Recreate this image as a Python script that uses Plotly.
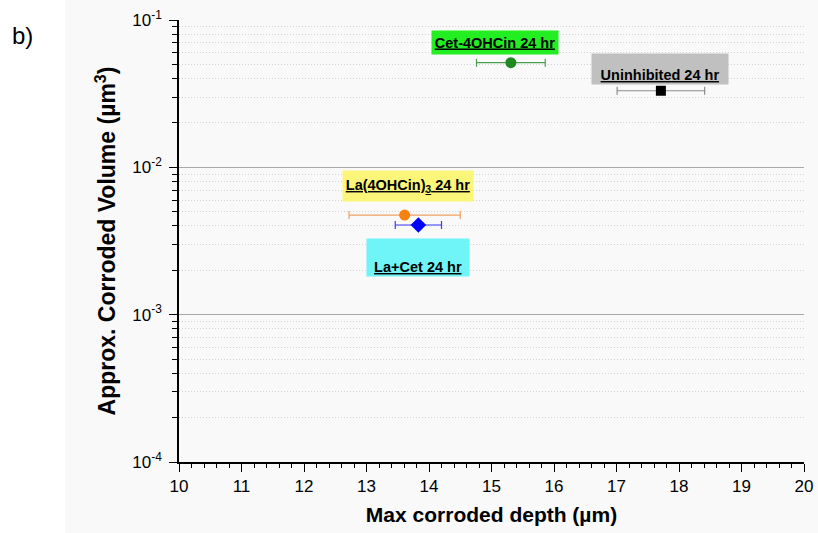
import plotly.graph_objects as go

# Data
names = ["Cet-4OHCin 24 hr", "Uninhibited 24 hr", "La(4OHCin)<sub>3</sub> 24 hr", "La+Cet 24 hr"]
depth = [15.31, 17.71, 13.61, 13.83]
depth_err = [0.55, 0.70, 0.89, 0.37]
volume = [0.0513, 0.0331, 0.00474, 0.00406]
marker_colors = ["#1f8a1f", "#000000", "#f7820f", "#0000ff"]
err_colors = ["#4c9f4c", "#8c8c8c", "#f2a060", "#3a3aff"]
symbols = ["circle", "square", "circle", "diamond"]
sizes = [11, 10, 11, 12]
box_colors = ["#22ee22", "#c0c0c0", "#fbf57a", "#6ff4f8"]
# label anchor (x in data units, y in log10 units) and box size (px)
label_x = [15.06, 17.70, 13.66, 13.82]
label_y = [-1.153, -1.333, -2.127, -2.612]
label_w = [124, 134, 128, 100]
label_h = [21, 28, 28, 35]

y_major = [1e-4, 1e-3, 1e-2, 1e-1]
y_major_text = ["10<sup>-4</sup>", "10<sup>-3</sup>", "10<sup>-2</sup>", "10<sup>-1</sup>"]
y_minor = [m * 10.0 ** e for e in (-4, -3, -2) for m in range(2, 10)]

FONT = "Liberation Sans, Arial"

fig = go.Figure()
for i in range(len(names)):
    fig.add_trace(go.Scatter(
        x=[depth[i]], y=[volume[i]], mode="markers",
        marker=dict(color=marker_colors[i], symbol=symbols[i], size=sizes[i], line=dict(width=0)),
        error_x=dict(type="data", array=[depth_err[i]], color=err_colors[i], thickness=1.2, width=4),
        showlegend=False, name=names[i]))
    fig.add_annotation(
        x=label_x[i], y=label_y[i], xref="x", yref="y",
        text="<u><b>" + names[i] + "</b></u>", showarrow=False,
        bgcolor=box_colors[i], width=label_w[i], height=label_h[i],
        valign="bottom" if i in (1, 3) else "middle",
        font=dict(family=FONT, size=14.5, color="#000000"))

tick_font = dict(family=FONT, size=17, color="#000000")

fig.update_layout(
    width=818, height=533,
    margin=dict(l=179, r=14, t=20, b=71, autoexpand=False),
    paper_bgcolor="white", plot_bgcolor="rgba(0,0,0,0)",
    font=dict(family=FONT, color="#000000"),
    xaxis=dict(
        range=[10, 20], dtick=1, tick0=10, ticks="outside", ticklen=8, tickwidth=1.3,
        tickcolor="black", showline=True, linecolor="black", linewidth=1.5, automargin=False,
        showgrid=False, zeroline=False, tickfont=tick_font,
        minor=dict(dtick=0.2, ticks="outside", ticklen=4, tickcolor="black", showgrid=False),
        title=dict(text="<b>Max corroded depth (µm)</b>", font=dict(family=FONT, size=21), standoff=12)),
    yaxis=dict(
        type="log", range=[-4, -1], tickvals=y_major, ticktext=y_major_text,
        ticks="outside", ticklen=8, tickwidth=1.3, tickcolor="black", automargin=False,
        ticklabelstandoff=4,
        showline=True, linecolor="black", linewidth=1.5,
        showgrid=True, gridcolor="#a8a8a8", gridwidth=1, zeroline=False, tickfont=tick_font,
        minor=dict(tickvals=y_minor, ticks="outside", ticklen=5, tickcolor="black",
                   showgrid=True, gridcolor="#d2d2d2", griddash="1px,2px", gridwidth=1),
        title=dict(text="<b>Approx. Corroded Volume (µm<sup>3</sup>)</b>", font=dict(family=FONT, size=23), standoff=10)),
    xaxis2=dict(
        overlaying="x", side="top", range=[10, 20], dtick=1, tick0=10, ticks="inside", ticklen=8,
        tickcolor="black", showticklabels=False, showline=True, linecolor="black", linewidth=1.5,
        showgrid=False, zeroline=False, automargin=False,
        minor=dict(dtick=0.2, ticks="inside", ticklen=4, tickcolor="black", showgrid=False)),
    yaxis2=dict(
        overlaying="y", side="right", type="log", range=[-4, -1], tickvals=y_major,
        ticks="inside", ticklen=8, tickcolor="black", showticklabels=False, automargin=False,
        showline=True, linecolor="black", linewidth=1.5, showgrid=False, zeroline=False,
        minor=dict(tickvals=y_minor, ticks="inside", ticklen=5, tickcolor="black", showgrid=False)),
)

# subtle light-gray panel behind the chart
fig.add_shape(type="rect", xref="paper", yref="paper",
              x0=(65 - 179) / 625, x1=(818 - 179) / 625, y0=-71 / 442, y1=462 / 442,
              fillcolor="#f9f9f9", line=dict(width=0), layer="below")

fig.add_annotation(xref="paper", yref="paper", x=(10 - 179) / 625, y=(462 - 35) / 442,
                   xanchor="left", yanchor="middle", text="b)", showarrow=False,
                   font=dict(family=FONT, size=24, color="black"))

fig.write_html("out.html")
